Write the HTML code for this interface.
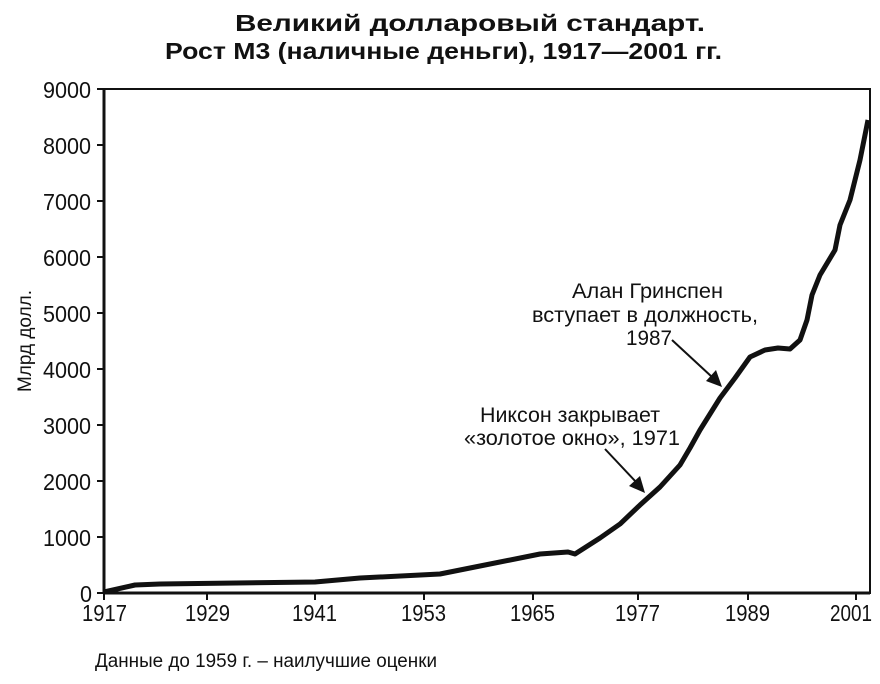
<!DOCTYPE html>
<html><head><meta charset="utf-8"><style>
body{margin:0;background:#fff}
svg text{font-family:"Liberation Sans","Noto Sans CJK SC",sans-serif;fill:#111}
</style></head><body>
<svg width="880" height="679" viewBox="0 0 880 679" xmlns="http://www.w3.org/2000/svg">
<text x="235" y="31" font-size="23" font-weight="bold" textLength="470" lengthAdjust="spacingAndGlyphs">Великий долларовый стандарт.</text>
<text x="165" y="59" font-size="23" font-weight="bold" textLength="557" lengthAdjust="spacingAndGlyphs">Рост М3 (наличные деньги), 1917—2001 гг.</text>
<rect x="104" y="89" width="766" height="504" fill="none" stroke="#111" stroke-width="2"/>
<line x1="104" y1="89" x2="104" y2="593" stroke="#111" stroke-width="3"/>
<line x1="104" y1="593" x2="870" y2="593" stroke="#111" stroke-width="3"/>
<g stroke="#111" stroke-width="2">
<line x1="97" y1="89" x2="104" y2="89"/><line x1="97" y1="145" x2="104" y2="145"/><line x1="97" y1="201" x2="104" y2="201"/><line x1="97" y1="257" x2="104" y2="257"/><line x1="97" y1="313" x2="104" y2="313"/><line x1="97" y1="369" x2="104" y2="369"/><line x1="97" y1="425" x2="104" y2="425"/><line x1="97" y1="481" x2="104" y2="481"/><line x1="97" y1="537" x2="104" y2="537"/><line x1="97" y1="593" x2="104" y2="593"/>
<line x1="104" y1="593" x2="104" y2="600"/><line x1="207" y1="593" x2="207" y2="600"/><line x1="315" y1="593" x2="315" y2="600"/><line x1="424" y1="593" x2="424" y2="600"/><line x1="533" y1="593" x2="533" y2="600"/><line x1="638" y1="593" x2="638" y2="600"/><line x1="748" y1="593" x2="748" y2="600"/><line x1="856" y1="593" x2="856" y2="600"/>
</g>
<g font-size="23">
<text x="43" y="98" textLength="48" lengthAdjust="spacingAndGlyphs">9000</text>
<text x="43" y="154" textLength="48" lengthAdjust="spacingAndGlyphs">8000</text>
<text x="43" y="210" textLength="48" lengthAdjust="spacingAndGlyphs">7000</text>
<text x="43" y="266" textLength="48" lengthAdjust="spacingAndGlyphs">6000</text>
<text x="43" y="322" textLength="48" lengthAdjust="spacingAndGlyphs">5000</text>
<text x="43" y="378" textLength="48" lengthAdjust="spacingAndGlyphs">4000</text>
<text x="43" y="434" textLength="48" lengthAdjust="spacingAndGlyphs">3000</text>
<text x="43" y="490" textLength="48" lengthAdjust="spacingAndGlyphs">2000</text>
<text x="43" y="546" textLength="48" lengthAdjust="spacingAndGlyphs">1000</text>
<text x="80" y="602" textLength="12" lengthAdjust="spacingAndGlyphs">0</text>
</g>
<g font-size="23">
<text x="82" y="621" textLength="45" lengthAdjust="spacingAndGlyphs">1917</text>
<text x="185" y="621" textLength="45" lengthAdjust="spacingAndGlyphs">1929</text>
<text x="292" y="621" textLength="45" lengthAdjust="spacingAndGlyphs">1941</text>
<text x="401" y="621" textLength="45" lengthAdjust="spacingAndGlyphs">1953</text>
<text x="510" y="621" textLength="45" lengthAdjust="spacingAndGlyphs">1965</text>
<text x="615" y="621" textLength="45" lengthAdjust="spacingAndGlyphs">1977</text>
<text x="725" y="621" textLength="45" lengthAdjust="spacingAndGlyphs">1989</text>
<text x="830" y="621" textLength="42" lengthAdjust="spacingAndGlyphs">2001</text>
</g>
<text transform="translate(31,392) rotate(-90)" font-size="19" textLength="102" lengthAdjust="spacingAndGlyphs">Млрд долл.</text>
<text x="95" y="667" font-size="19" textLength="342" lengthAdjust="spacingAndGlyphs">Данные до 1959 г. – наилучшие оценки</text>
<polyline fill="none" stroke="#111" stroke-width="5" stroke-linejoin="round" points="104,592 135,585 160,584 315,582 360,578 440,574 480,566 540,554 568,552 575,554 600,538 620,524 640,505 660,487 680,465 690,448 700,430 720,398 735,378 750,357 765,350 778,348 790,349 800,340 807,320 812,295 820,275 835,250 840,225 850,200 860,160 868,120"/>
<g font-size="21">
<text x="572" y="298" textLength="151" lengthAdjust="spacingAndGlyphs">Алан Гринспен</text>
<text x="532" y="322" textLength="226" lengthAdjust="spacingAndGlyphs">вступает в должность,</text>
<text x="626" y="345" textLength="46" lengthAdjust="spacingAndGlyphs">1987</text>
<text x="480" y="422" textLength="180" lengthAdjust="spacingAndGlyphs">Никсон закрывает</text>
<text x="464" y="445" textLength="216" lengthAdjust="spacingAndGlyphs">«золотое окно», 1971</text>
</g>
<line x1="672" y1="340" x2="712" y2="377" stroke="#111" stroke-width="2"/>
<polygon points="722,387 706,381 716,370" fill="#111"/>
<line x1="605" y1="449" x2="636" y2="482" stroke="#111" stroke-width="2"/>
<polygon points="645,493 629,486 640,476" fill="#111"/>
</svg>
</body></html>
